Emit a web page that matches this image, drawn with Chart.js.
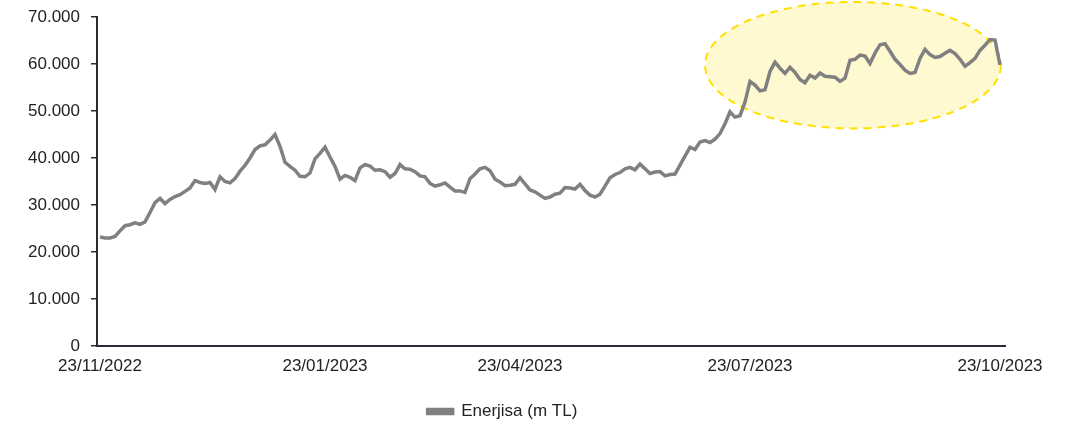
<!DOCTYPE html>
<html>
<head>
<meta charset="utf-8">
<script src="https://cdn.jsdelivr.net/npm/chart.js"></script>
<style>
  body { margin: 0; background: #fff; }
</style>
</head>
<body>
<canvas id="enerjisaChart" width="1071" height="424"></canvas>
<script>
// series name and daily market value (thousand TL)
const seriesName = "Enerjisa (m TL)";
const marketValue = [
    23200, 23000, 23000, 23300, 24500, 25600, 25800, 26200, 25900, 26400,
    28400, 30500, 31400, 30300, 31200, 31800, 32200, 32900, 33600, 35200,
    34800, 34600, 34800, 33300, 36000, 35000, 34700, 35600, 37200, 38400,
    40000, 41800, 42600, 42800, 43800, 45000, 42500, 39100, 38200, 37400,
    36100, 36000, 36800, 39800, 41000, 42300, 40200, 38200, 35500, 36300,
    35900, 35200, 37900, 38600, 38300, 37400, 37500, 37100, 35900, 36700,
    38600, 37700, 37600, 37100, 36200, 36000, 34600, 34000, 34300, 34700,
    33800, 33000, 33000, 32700, 35600, 36600, 37700, 38000, 37300, 35500,
    34900, 34100, 34200, 34400, 35800, 34500, 33200, 32800, 32100, 31400,
    31700, 32300, 32500, 33700, 33600, 33400, 34400, 33100, 32100, 31700,
    32300, 34000, 35800, 36500, 36900, 37700, 38000, 37500, 38700, 37700,
    36700, 37000, 37100, 36200, 36500, 36600, 38500, 40400, 42300, 41800,
    43400, 43700, 43300, 44000, 45200, 47300, 49800, 48700, 49000, 51900,
    56300, 55500, 54300, 54500, 58400, 60400, 59100, 58000, 59300, 58200,
    56700, 56000, 57600, 57000, 58100, 57400, 57300, 57200, 56300, 57000,
    60800, 61000, 61900, 61700, 60100, 62300, 64100, 64300, 62700, 61000,
    59900, 58700, 58000, 58200, 61200, 63100, 62000, 61400, 61600, 62300,
    62900, 62200, 61000, 59500, 60300, 61200, 62900, 64000, 65200, 65100,
    59800
];

// x axis tick labels and the day index they sit on
const tickLabels = ["23/11/2022", "23/01/2023", "23/04/2023", "23/07/2023", "23/10/2023"];
const tickIndex = [0, 45, 84, 130, 180];

// highlighted zone (centre in day index / value, radii in the same units)
const highlight = { cx: 150.6, cy: 59750, rx: 29.6, ry: 13450 };

const textColor = "#222222";
const axisColor = "#2b2b36";
const lineColor = "#808080";
const fontFamily = "Liberation Sans, Arial, sans-serif";

function formatThousands(v) {
    return String(v).replace(/\B(?=(\d{3})+(?!\d))/g, ".");
}

const ellipsePlugin = {
    id: "highlightEllipse",
    beforeDatasetsDraw(chart) {
        const { ctx, scales } = chart;
        const x = scales.x.getPixelForValue(highlight.cx);
        const y = scales.y.getPixelForValue(highlight.cy);
        const rx = Math.abs(scales.x.getPixelForValue(highlight.cx + highlight.rx) - x);
        const ry = Math.abs(scales.y.getPixelForValue(highlight.cy + highlight.ry) - y);
        ctx.save();
        ctx.beginPath();
        ctx.ellipse(x, y, rx, ry, 0, 0, Math.PI * 2);
        ctx.fillStyle = "#fff9d2";
        ctx.fill();
        ctx.setLineDash([8, 6]);
        ctx.lineWidth = 2;
        ctx.strokeStyle = "#ffe000";
        ctx.stroke();
        ctx.restore();
    }
};

const points = marketValue.map((v, i) => ({ x: i, y: v }));

const ctx = document.getElementById("enerjisaChart").getContext("2d");
const chart = new Chart(ctx, {
    type: "line",
    data: {
        datasets: [{
            label: seriesName,
            data: points,
            borderColor: lineColor,
            backgroundColor: lineColor,
            borderWidth: 3.5,
            pointRadius: 0,
            tension: 0,
        }],
    },
    options: {
        responsive: false,
        animation: false,
        layout: { padding: { left: 0, top: 17, right: 66, bottom: -6 } },
        scales: {
            x: {
                type: "linear",
                min: -0.6,
                max: 181,
                afterBuildTicks(scale) {
                    scale.ticks = tickIndex.map(v => ({ value: v }));
                },
                afterFit(scale) {
                    scale.height = 55;
                },
                ticks: {
                    autoSkip: false,
                    maxRotation: 0,
                    padding: 10,
                    color: textColor,
                    font: { family: fontFamily, size: 17 },
                    callback: (v) => {
                        const k = tickIndex.indexOf(v);
                        return k >= 0 ? tickLabels[k] : "";
                    },
                },
                grid: { display: false, drawTicks: false },
                border: { color: axisColor, width: 2 },
            },
            y: {
                min: 0,
                max: 70000,
                afterFit(scale) {
                    scale.width = 97;
                    scale.paddingTop = 0;
                    scale.paddingBottom = 0;
                },
                ticks: {
                    stepSize: 10000,
                    padding: 11,
                    color: textColor,
                    font: { family: fontFamily, size: 17 },
                    callback: (v) => formatThousands(v),
                },
                grid: {
                    display: true,
                    drawOnChartArea: false,
                    drawTicks: true,
                    tickLength: 6,
                    color: axisColor,
                    lineWidth: 1.5,
                },
                border: { color: axisColor, width: 2 },
            },
        },
        plugins: {
            legend: {
                position: "bottom",
                labels: {
                    boxWidth: 25,
                    boxHeight: 4,
                    color: textColor,
                    padding: 2,
                    font: { family: fontFamily, size: 17 },
                },
            },
            tooltip: { enabled: false },
        },
    },
    plugins: [ellipsePlugin],
});
</script>
</body>
</html>
